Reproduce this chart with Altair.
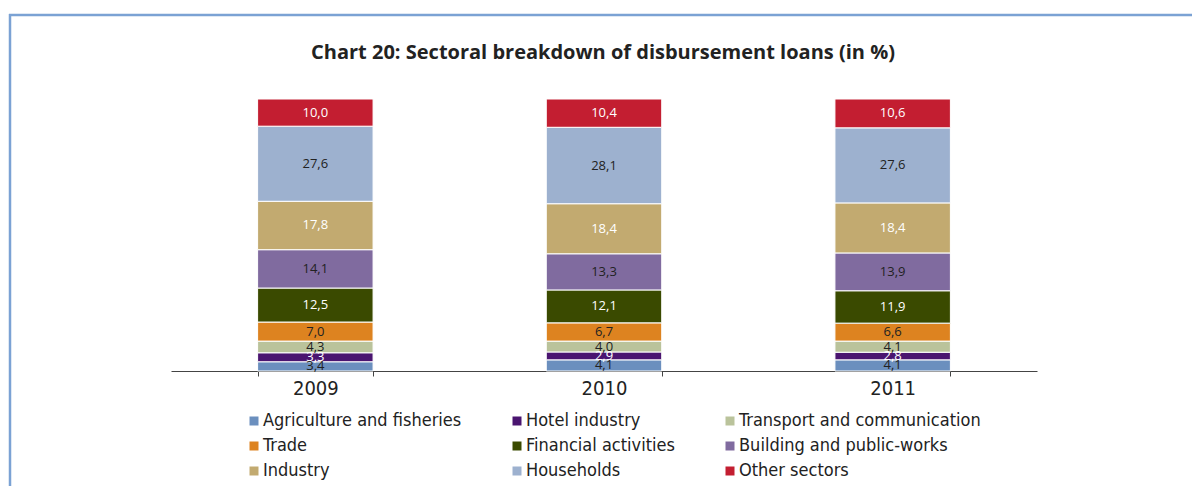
import altair as alt
import pandas as pd

years = ["2009", "2010", "2011"]
sectors = [
    "Agriculture and fisheries", "Hotel industry", "Transport and communication",
    "Trade", "Financial activities", "Building and public-works",
    "Industry", "Households", "Other sectors",
]
agriculture = [3.4, 4.1, 4.1]
hotel = [3.3, 2.9, 2.8]
transport = [4.3, 4.0, 4.1]
trade = [7.0, 6.7, 6.6]
financial = [12.5, 12.1, 11.9]
building = [14.1, 13.3, 13.9]
industry = [17.8, 18.4, 18.4]
households = [27.6, 28.1, 27.6]
other = [10.0, 10.4, 10.6]

title_text = "Chart 20: Sectoral breakdown of disbursement loans (in %)"

colors = ["#6B8FBE", "#4A1570", "#BAC39B", "#DD8320", "#3A4A00",
          "#806B9F", "#C2AA70", "#9DB1CF", "#C31E31"]
label_colors = ["#222222", "#FFFFFF", "#222222", "#222222", "#FFFFFF",
                "#222222", "#FFFFFF", "#222222", "#FFFFFF"]

series = [agriculture, hotel, transport, trade, financial, building, industry, households, other]
rows = []
for i, (s, vals) in enumerate(zip(sectors, series)):
    for y, v in zip(years, vals):
        rows.append({"year": y, "sector": s, "value": v, "idx": i,
                     "label": f"{v:.1f}".replace(".", ","), "tcolor": label_colors[i]})
df = pd.DataFrame(rows)

W, H = 866, 272
COND = "DejaVu Sans Condensed, Roboto, sans-serif"

base = alt.Chart(df)

x_enc = alt.X("year:N", title=None, sort=years,
              scale=alt.Scale(paddingInner=0.6, paddingOuter=0.3),
              axis=alt.Axis(labelAngle=0, labelFont=COND, labelFontSize=20,
                            labelColor="#222222", labelPadding=2, tickBand="extent",
                            domainColor="#444444", tickColor="#444444", tickSize=5,
                            domainWidth=1, grid=False))

bars = base.mark_bar(stroke="white", strokeWidth=1).encode(
    x=x_enc,
    y=alt.Y("value:Q", stack="zero", axis=None, scale=alt.Scale(domain=[0, 100], nice=False)),
    color=alt.Color("sector:N", sort=sectors,
                    scale=alt.Scale(domain=sectors, range=colors),
                    legend=alt.Legend(title=None, orient="none", legendX=74, legendY=313,
                                      direction="horizontal",
                                      columns=3, columnPadding=46, rowPadding=7,
                                      symbolType="square", symbolSize=81, symbolStrokeWidth=0,
                                      labelFont=COND, labelFontSize=18,
                                      labelColor="#222222", labelOffset=0, labelLimit=400)),
    order=alt.Order("idx:Q", sort="ascending"),
)

texts = base.transform_stack(
    stack="value", groupby=["year"], as_=["v0", "v1"], sort=[alt.SortField("idx", order="ascending")]
).transform_calculate(mid="(datum.v0 + datum.v1) / 2").mark_text(
    font="Open Sans", fontSize=13, baseline="middle", align="center"
).encode(
    x=alt.X("year:N", sort=years),
    y=alt.Y("mid:Q", scale=alt.Scale(domain=[0, 100], nice=False)),
    text="label:N",
    color=alt.Color("tcolor:N", scale=None),
)

frame_df = pd.DataFrame({"a": [0]})
frame_top = alt.Chart(frame_df).mark_rule(color="#7BA2D4", strokeWidth=2.5).encode(
    x=alt.value(-162), x2=alt.value(1040), y=alt.value(-84))
frame_left = alt.Chart(frame_df).mark_rule(color="#7BA2D4", strokeWidth=2.5).encode(
    x=alt.value(-161), y=alt.value(-85), y2=alt.value(420))
title = alt.Chart(frame_df).mark_text(
    font="Open Sans", fontSize=20, fontWeight="bold", color="#222222",
    align="center", baseline="middle").encode(
    x=alt.value(W / 2 - 1), y=alt.value(-46), text=alt.value(title_text))

chart = alt.layer(bars, texts, frame_top, frame_left, title).properties(
    width=W, height=H, background="white",
    padding={"left": 163, "top": 91, "right": 155, "bottom": 115},
    autosize=alt.AutoSizeParams(type="none"),
).configure_view(strokeWidth=0, stroke=None)

chart.save("out.html", embed_options={"renderer": "svg", "actions": False})
